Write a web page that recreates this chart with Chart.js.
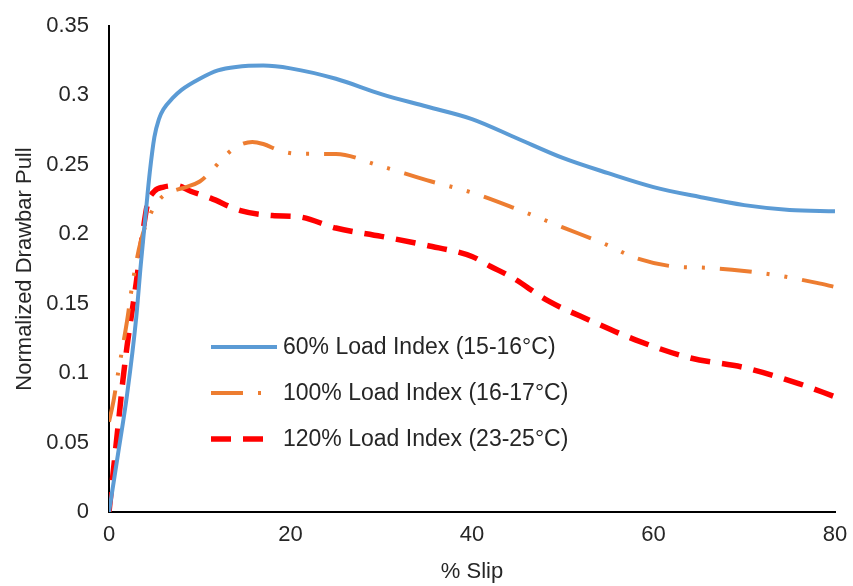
<!DOCTYPE html>
<html>
<head>
<meta charset="utf-8">
<script src="https://cdn.jsdelivr.net/npm/chart.js@4"></script>
<style>
  body { margin: 0; background: #fff; }
</style>
</head>
<body>
<canvas id="slipChart" width="853" height="586"></canvas>
<script>
// 60% Load Index (15-16°C)
const slip60 = [0, 1, 2, 3, 3.5, 4, 4.5, 5, 5.5, 6, 7, 8, 10, 12, 14, 17, 20, 25, 30, 35, 40, 45, 50, 55, 60, 65, 70, 75, 80];
const pull60 = [0, 0.042, 0.085, 0.14, 0.178, 0.212, 0.245, 0.27, 0.283, 0.29, 0.298, 0.304, 0.312, 0.318, 0.3205, 0.3215, 0.3195, 0.312, 0.301, 0.292, 0.283, 0.269, 0.255, 0.244, 0.234, 0.227, 0.221, 0.2175, 0.2165];

// 100% Load Index (16-17°C)
const slip100 = [0, 0.5, 1, 2, 2.6, 3.5, 4.6, 5.7, 7, 8.5, 10, 11.2, 12.3, 13.8, 15.8, 17, 18.9, 20.8, 25, 30, 35, 40, 45, 50, 55, 58, 62, 66, 70, 74, 78, 80];
const pull100 = [0.065, 0.08, 0.1, 0.138, 0.165, 0.195, 0.215, 0.226, 0.231, 0.234, 0.238, 0.245, 0.253, 0.262, 0.2665, 0.265, 0.26, 0.258, 0.2578, 0.249, 0.239, 0.23, 0.218, 0.205, 0.192, 0.183, 0.177, 0.1758, 0.1736, 0.170, 0.165, 0.162];

// 120% Load Index (23-25°C)
const slip120 = [0, 1, 1.5, 2, 3, 3.7, 4.25, 5, 6, 7.5, 9, 11.2, 14.5, 18, 21, 25, 30, 35, 40, 42, 44.4, 48.4, 53, 58, 64, 70, 76, 80];
const pull120 = [0, 0.062, 0.093, 0.12, 0.165, 0.2, 0.222, 0.231, 0.234, 0.235, 0.231, 0.226, 0.217, 0.2135, 0.2125, 0.2045, 0.1985, 0.192, 0.184, 0.177, 0.169, 0.152, 0.138, 0.124, 0.111, 0.104, 0.0925, 0.083];

const seriesNames = ["60% Load Index (15-16°C)", "100% Load Index (16-17°C)", "120% Load Index (23-25°C)"];
const xTicks = [0, 20, 40, 60, 80];
const yTicks = [0, 0.05, 0.1, 0.15, 0.2, 0.25, 0.3, 0.35];

const FONT = "'Liberation Sans', Arial, sans-serif";
const TEXT = "#262626";

function toPoints(xs, ys) {
    return xs.map((x, i) => ({ x: x, y: ys[i] }));
}

// legend drawn inside the plot, like the original
const insideLegend = {
    id: "insideLegend",
    afterDraw(chart) {
        const ctx = chart.ctx;
        const rows = [347, 393, 439];
        const ends = [277, 270, 263];
        ctx.save();
        chart.data.datasets.forEach((ds, i) => {
            const y = rows[i];
            ctx.beginPath();
            ctx.strokeStyle = ds.borderColor;
            ctx.lineWidth = ds.borderWidth;
            ctx.setLineDash(ds.borderDash || []);
            ctx.moveTo(211, y);
            ctx.lineTo(ends[i], y);
            ctx.stroke();
            ctx.setLineDash([]);
            ctx.fillStyle = TEXT;
            ctx.font = "23px " + FONT;
            ctx.textBaseline = "middle";
            ctx.fillText(ds.label, 283, y + 1);
        });
        ctx.restore();
    }
};

function drawChart() {
    const ctx = document.getElementById("slipChart").getContext("2d");

    new Chart(ctx, {
        type: "line",
        data: {
            datasets: [{
                label: seriesNames[0],
                data: toPoints(slip60, pull60),
                borderColor: "#5B9BD5",
                borderWidth: 4,
                cubicInterpolationMode: "monotone",
                pointRadius: 0
            }, {
                label: seriesNames[1],
                data: toPoints(slip100, pull100),
                borderColor: "#ED7D31",
                borderWidth: 4,
                borderDash: [32, 15, 3, 15, 3, 15],
                cubicInterpolationMode: "monotone",
                pointRadius: 0
            }, {
                label: seriesNames[2],
                data: toPoints(slip120, pull120),
                borderColor: "#FF0000",
                borderWidth: 5.5,
                borderDash: [20, 12],
                cubicInterpolationMode: "monotone",
                pointRadius: 0
            }]
        },
        options: {
            responsive: false,
            animation: false,
            layout: { padding: { top: 26, right: 18, left: 0, bottom: 0 } },
            plugins: {
                legend: { display: false },
                tooltip: { enabled: false }
            },
            scales: {
                x: {
                    type: "linear",
                    min: 0,
                    max: 80,
                    afterBuildTicks: s => { s.ticks = xTicks.map(v => ({ value: v })); },
                    afterFit: s => { s.height = 74; s.paddingLeft = 0; s.paddingRight = 0; },
                    grid: { display: false, drawTicks: false },
                    border: { display: true, color: "#000", width: 2 },
                    ticks: { color: TEXT, font: { family: FONT, size: 22 }, padding: 10, maxRotation: 0 },
                    title: { display: true, text: "% Slip", color: TEXT, font: { family: FONT, size: 22 }, padding: { top: 0, bottom: 1 } }
                },
                y: {
                    min: 0,
                    max: 0.35,
                    afterBuildTicks: s => { s.ticks = yTicks.map(v => ({ value: v })); },
                    afterFit: s => { s.width = 109; s.paddingTop = 0; s.paddingBottom = 0; },
                    grid: { display: false, drawTicks: false },
                    border: { display: true, color: "#000", width: 2 },
                    ticks: {
                        color: TEXT,
                        font: { family: FONT, size: 22 },
                        padding: 20,
                        callback: v => String(+v.toFixed(2))
                    },
                    title: { display: true, text: "Normalized Drawbar Pull", color: TEXT, font: { family: FONT, size: 22 }, padding: { top: 12, bottom: 0 } }
                }
            }
        },
        plugins: [insideLegend]
    });
}

window.onload = drawChart;
</script>
</body>
</html>
